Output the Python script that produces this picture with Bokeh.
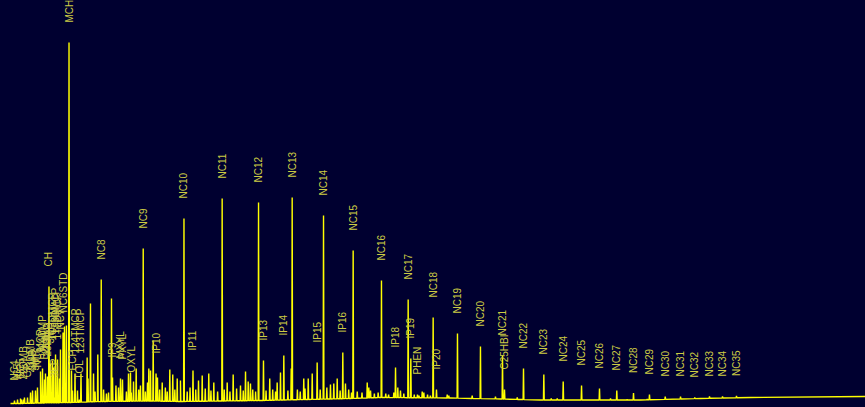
import numpy as np
from bokeh.plotting import figure
from bokeh.models import Range1d, ColumnDataSource
from bokeh.core.properties import value
from bokeh.embed import file_html
from bokeh.resources import INLINE

# ---- Data (retention time in min, detector response) ----
label_names = ["NC4", "IC5", "NC5", "22DMB", "CP", "23DMB", "2MP", "3MP", "NC6", "MCP",
               "24DMP", "BZ", "2MH", "23DMP", "CH", "3MH", "1C3DMCP", "3EP", "1T3DMCP",
               "1T2DMCP", "NC7", "NC6STD", "MCH", "ECP", "124TMCP", "TOL", "123TMCP",
               "NC8", "IP9", "MXYL", "PXYL", "OXYL", "NC9", "IP10", "NC10", "IP11", "NC11",
               "NC12", "IP13", "IP14", "NC13", "IP15", "NC14", "IP16", "NC15", "NC16",
               "IP18", "NC17", "IP19", "PHEN", "NC18", "IP20", "NC19", "NC20", "NC21",
               "C25HBI", "NC22", "NC23", "NC24", "NC25", "NC26", "NC27", "NC28", "NC29",
               "NC30", "NC31", "NC32", "NC33", "NC34", "NC35"]
label_rt = [0.42, 0.74, 1.05, 1.37, 1.79, 2.11, 2.32, 2.63, 2.84, 3.16,
            3.37, 3.58, 3.68, 3.89, 4.05, 4.21, 4.42, 4.58, 4.74,
            4.95, 5.26, 5.53, 6.16, 6.53, 6.79, 7.26, 7.42,
            9.55, 10.74, 11.58, 11.79, 12.71, 13.97, 15.32, 18.26, 19.21, 22.28,
            26.11, 26.63, 28.77, 29.65, 32.28, 32.95, 34.98, 36.07, 39.05,
            40.53, 41.86, 42.14, 42.84, 44.49, 44.84, 47.05, 49.47, 51.79,
            52.00, 54.00, 56.14, 58.18, 60.11, 62.00, 63.82, 65.58, 67.26,
            68.92, 70.53, 72.03, 73.58, 74.95, 76.42]
label_resp = [3, 4, 5, 4, 6, 11, 13, 13, 16, 32,
              35, 24, 30, 27, 117, 40, 43, 6, 49,
              44, 54, 71, 361, 13, 30, 4, 30,
              124, 26, 25, 24, 11, 155, 30, 185, 33, 205,
              201, 43, 48, 206, 41, 188, 51, 153, 123,
              36, 104, 45, 9, 86, 14, 70, 57, 48,
              14, 35, 29, 22, 18, 15, 13, 10.5, 9,
              7, 7, 6, 7, 7, 7.5]

minor_rt = [1.16, 1.47, 4.53, 5.16, 5.68, 5.89, 6.42, 7.05,
            8.07, 8.16, 8.42, 8.74, 9.19, 10.32, 10.63, 11.37, 12.42, 12.63, 12.95,
            13.23, 13.68, 14.42, 14.56, 14.74, 15.02, 15.47, 15.97, 16.77, 17.08,
            17.55, 17.89, 19.79, 20.18, 20.87, 21.40, 22.81, 23.44, 24.21, 24.74,
            25.02, 25.26, 27.29, 28.07, 28.42, 29.55, 30.87, 31.34, 31.76, 33.68,
            34.03, 34.39, 35.26, 37.55, 37.72, 40.35, 40.77, 41.05, 43.34, 43.51,
            45.97, 46.14, 48.60, 51.05, 53.34, 56.92, 57.55, 63.16, 64.91, 67.02,
            8.9, 9.8, 10.1, 11.1, 12.2, 13.5, 14.2, 15.7, 16.3, 16.5, 17.3, 18.6,
            18.9, 19.5, 20.5, 21.1, 21.8, 22.5, 23.1, 23.8, 24.5, 25.5, 25.8, 26.9,
            27.6, 27.9, 29.2, 30.2, 30.5, 31.0, 32.6, 33.3, 34.7, 35.6, 35.9, 36.5,
            37.0, 37.9, 38.3, 38.7, 39.5, 39.8, 41.4, 42.5, 43.0, 43.9, 44.2]
minor_resp = [4, 6, 36, 25, 77, 78, 33, 13,
              46, 25, 100, 30, 49, 11, 105, 16, 30, 31, 22,
              35, 18, 21, 35, 33, 63, 26, 21, 34, 29,
              25, 23, 23, 28, 30, 21, 21, 29, 18, 32,
              22, 20, 25, 21, 31, 35, 25, 25, 30, 19,
              20, 25, 20, 21, 16, 11, 16, 13, 12, 11,
              9, 8, 8, 7, 6, 5, 5, 5, 4, 4.5,
              12, 14, 10, 18, 12, 14, 12, 14, 16, 12, 14, 12,
              16, 14, 15, 13, 12, 14, 12, 15, 13, 14, 12, 13,
              14, 12, 13, 14, 12, 15, 14, 16, 13, 14, 11, 12,
              11, 13, 10, 11, 10, 9, 10, 9, 8, 9, 8]

baseline_rt = [0.0, 1.05, 3.16, 6.32, 9.47, 14.74, 17.89, 26.32, 35.79, 38.95,
               46.32, 51.58, 55.79, 66.32, 72.63, 77.89, 90.0]
baseline_resp = [0, 0, 0.5, 1, 2, 2.5, 2, 3, 5, 6,
                 5.5, 4.5, 3.5, 3.5, 5, 6, 7]

# ---- Build the trace from the peak table ----
half_width = 0.04
b_rt = np.array(baseline_rt)
b_v = np.array(baseline_resp)
pk_rt = np.array(label_rt + minor_rt)
pk_v = np.array(label_resp + minor_resp)
xs = list(b_rt)
ys = list(b_v)
for r, v in zip(pk_rt, pk_v):
    for dx, top in ((-half_width, False), (0.0, True), (half_width, False)):
        xs.append(r + dx)
        ys.append(v if top else float(np.interp(r + dx, b_rt, b_v)))
order = np.argsort(np.array(xs), kind="stable")
trace_x = np.array(xs)[order]
trace_y = np.array(ys)[order]

BG = "#000030"
p = figure(width=865, height=407, output_backend="svg", toolbar_location=None,
           x_range=Range1d(-10 / 9.5, 90), y_range=Range1d(-4, 403),
           min_border=0, min_border_left=0, min_border_right=0,
           min_border_top=0, min_border_bottom=0)
p.background_fill_color = BG
p.border_fill_color = BG
p.outline_line_color = None
p.axis.visible = False
p.grid.visible = False

p.line(trace_x, trace_y, line_color="#ffff00", line_width=1.4)

src = ColumnDataSource(dict(x=label_rt, y=label_resp, t=label_names))
p.text(x="x", y="y", text="t", source=src, angle=np.pi / 2,
       text_align="left", text_baseline="middle",
       text_font=value("Liberation Sans"), text_font_size="10px",
       text_color="#cccc44", y_offset=-20)

html = file_html(p, INLINE)
html = html.replace("<head>", "<head><style>html,body{background:%s;}</style>" % BG, 1)
open("out.html", "w").write(html)
